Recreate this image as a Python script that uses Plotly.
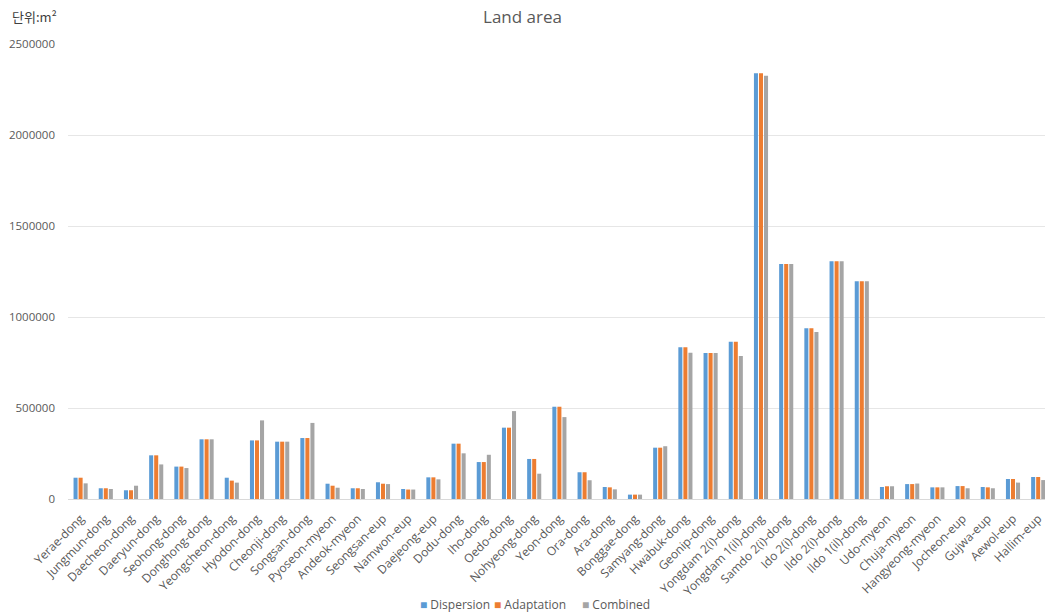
import plotly.graph_objects as go

categories = ["Yerae-dong", "Jungmun-dong", "Daecheon-dong", "Daeryun-dong", "Seohong-dong",
              "Donghong-dong", "Yeongcheon-dong", "Hyodon-dong", "Cheonji-dong", "Songsan-dong",
              "Pyoseon-myeon", "Andeok-myeon", "Seongsan-eup", "Namwon-eup", "Daejeong-eup",
              "Dodu-dong", "Iho-dong", "Oedo-dong", "Nohyeong-dong", "Yeon-dong", "Ora-dong",
              "Ara-dong", "Bonggae-dong", "Samyang-dong", "Hwabuk-dong", "Geonip-dong",
              "Yongdam 2(i)-dong", "Yongdam 1(il)-dong", "Samdo 2(i)-dong", "Ido 2(i)-dong",
              "Ildo 2(i)-dong", "Ildo 1(il)-dong", "Udo-myeon", "Chuja-myeon", "Hangyeong-myeon",
              "Jocheon-eup", "Gujwa-eup", "Aewol-eup", "Hallim-eup"]

dispersion = [117000, 59000, 48000, 240000, 178000, 328000, 117000, 322000, 315000, 335000,
              84000, 59000, 92000, 55000, 119000, 304000, 203000, 392000, 220000, 507000,
              147000, 66000, 24000, 282000, 834000, 802000, 864000, 2339000, 1291000, 938000,
              1306000, 1197000, 66000, 82000, 64000, 71000, 66000, 110000, 121000]
adaptation = [117000, 59000, 48000, 240000, 178000, 328000, 101000, 322000, 315000, 335000,
              73000, 59000, 84000, 52000, 119000, 304000, 203000, 392000, 220000, 507000,
              147000, 64000, 24000, 282000, 834000, 802000, 864000, 2339000, 1291000, 938000,
              1306000, 1197000, 70000, 82000, 64000, 71000, 64000, 110000, 121000]
combined = [86000, 55000, 73000, 190000, 170000, 328000, 90000, 432000, 315000, 418000,
            62000, 55000, 82000, 52000, 108000, 251000, 243000, 483000, 139000, 450000,
            103000, 53000, 24000, 290000, 804000, 802000, 786000, 2326000, 1291000, 917000,
            1306000, 1197000, 70000, 85000, 64000, 59000, 59000, 90000, 104000]

series_names = ["Dispersion", "Adaptation", "Combined"]
colors = ["#5B9BD5", "#ED7D31", "#A5A5A5"]
y_ticks = [0, 500000, 1000000, 1500000, 2000000, 2500000]

fig = go.Figure()
for name, vals, col in zip(series_names, [dispersion, adaptation, combined], colors):
    fig.add_trace(go.Bar(x=categories, y=vals, name=name, marker_color=col,
                         marker_line_width=0, showlegend=False))

txt_font = "Open Sans, Noto Sans, sans-serif"
L, T, B = 68, 44, 115
plot_w, plot_h = 1045 - L, 614 - T - B

fig.update_layout(
    width=1045, height=614,
    margin=dict(l=L, r=0, t=T, b=B),
    paper_bgcolor="white", plot_bgcolor="white",
    barmode="group", bargap=0.4, bargroupgap=0.2,
    showlegend=False,
    title=dict(text="Land area", x=0.5, xanchor="center", xref="container",
               y=1 - 17 / 614, yanchor="middle", yref="container",
               font=dict(family=txt_font, size=17, color="#595959")),
    font=dict(family=txt_font, color="#595959"),
    xaxis=dict(type="category", range=[-0.5, 38.27], tickangle=-45,
               tickfont=dict(size=12, color="#595959"), showgrid=False,
               showline=True, linecolor="#D9D9D9", linewidth=1, ticks="",
               ticklabelstandoff=7),
    yaxis=dict(range=[0, 2500000], tickvals=y_ticks,
               ticktext=[str(v) for v in y_ticks],
               tickfont=dict(size=11.5, color="#595959"), showgrid=True,
               gridcolor="#E6E6E6", gridwidth=1, zeroline=False, showline=False,
               ticklabelstandoff=12),
)

# unit label
fig.add_annotation(text="단위:m²", x=(10 - L) / plot_w, y=1 + (T - 17) / plot_h,
                   xref="paper", yref="paper", xanchor="left", yanchor="middle",
                   showarrow=False,
                   font=dict(family="Noto Sans CJK KR, sans-serif", size=13, color="#404040"))

# legend (Excel style: small squares, tight spacing)
legend_x = [418, 492, 580]
for name, col, lx in zip(series_names, colors, legend_x):
    fig.add_annotation(text=f"<span style='color:{col}'>■</span> {name}",
                       x=(lx - L) / plot_w, y=-(604 - (T + plot_h)) / plot_h,
                       xref="paper", yref="paper", xanchor="left", yanchor="middle",
                       showarrow=False,
                       font=dict(family=txt_font, size=12, color="#595959"))

fig.write_html("out.html")
